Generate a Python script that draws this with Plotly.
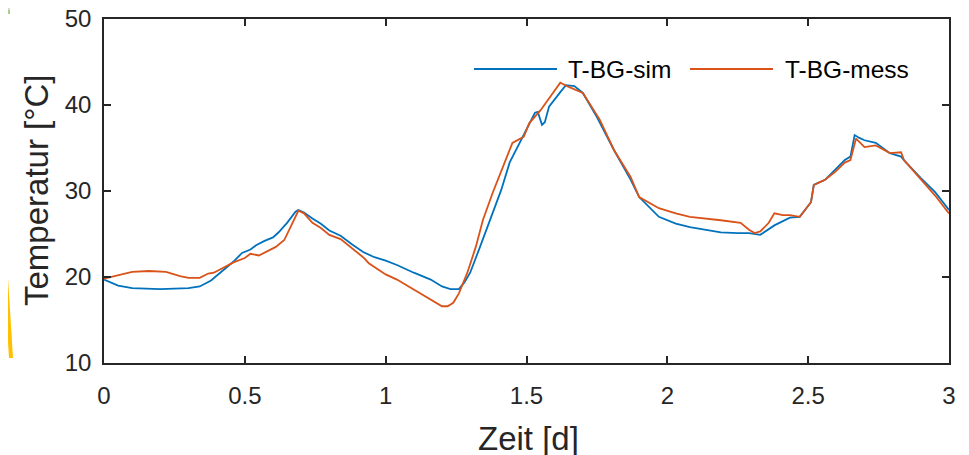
import plotly.graph_objects as go

# ---- data ----
t_sim = [0, 0.05, 0.1, 0.2, 0.3, 0.34, 0.38, 0.42, 0.46, 0.49, 0.52, 0.54, 0.57, 0.6, 0.62,
         0.65, 0.68, 0.69, 0.71, 0.74, 0.77, 0.8, 0.84, 0.88, 0.92, 0.96, 1.0, 1.04, 1.1,
         1.16, 1.2, 1.23, 1.26, 1.28, 1.30, 1.335, 1.37, 1.41, 1.44, 1.48, 1.51, 1.53, 1.54,
         1.555, 1.565, 1.58, 1.62, 1.64, 1.67, 1.70, 1.75, 1.81, 1.87, 1.90, 1.97, 2.03,
         2.08, 2.14, 2.19, 2.25, 2.29, 2.33, 2.36, 2.38, 2.435, 2.47, 2.51, 2.52, 2.56,
         2.595, 2.63, 2.65, 2.665, 2.68, 2.70, 2.74, 2.79, 2.83, 2.84, 2.90, 2.95, 3.0]
T_sim = [19.7, 19.0, 18.7, 18.6, 18.7, 18.9, 19.6, 20.7, 21.8, 22.8, 23.2, 23.7, 24.2, 24.6, 25.2,
         26.3, 27.6, 27.8, 27.5, 26.8, 26.2, 25.4, 24.8, 23.8, 22.9, 22.3, 21.9, 21.4, 20.5,
         19.7, 18.9, 18.6, 18.6, 19.4, 20.5, 23.5, 26.6, 30.1, 33.3, 35.9, 37.7, 39.1, 39.2,
         37.7, 38.0, 39.8, 41.5, 42.3, 42.2, 41.4, 38.6, 34.8, 31.3, 29.3, 27.0, 26.2,
         25.8, 25.5, 25.2, 25.1, 25.1, 24.9, 25.6, 26.0, 26.9, 27.0, 28.7, 30.7, 31.3,
         32.4, 33.6, 34.0, 36.5, 36.2, 35.9, 35.6, 34.4, 34.0, 33.6, 31.5, 29.9, 27.8]

t_mess = [0, 0.05, 0.1, 0.16, 0.22, 0.27, 0.3, 0.34, 0.37, 0.39, 0.42, 0.46, 0.5, 0.52, 0.55,
          0.58, 0.61, 0.64, 0.67, 0.69, 0.71, 0.74, 0.77, 0.8, 0.84, 0.88, 0.92, 0.94, 1.0,
          1.04, 1.10, 1.16, 1.2, 1.22, 1.24, 1.26, 1.29, 1.32, 1.345, 1.38, 1.415, 1.45,
          1.49, 1.51, 1.55, 1.58, 1.62, 1.65, 1.70, 1.76, 1.81, 1.87, 1.90, 1.97, 2.03,
          2.08, 2.14, 2.19, 2.26, 2.29, 2.31, 2.33, 2.36, 2.38, 2.41, 2.435, 2.47, 2.51,
          2.52, 2.56, 2.595, 2.63, 2.65, 2.67, 2.70, 2.74, 2.79, 2.83, 2.84, 2.90, 2.95, 3.0]
T_mess = [19.8, 20.2, 20.6, 20.7, 20.6, 20.1, 19.9, 19.9, 20.4, 20.5, 21.0, 21.7, 22.2, 22.7, 22.5,
          23.0, 23.5, 24.3, 26.4, 27.7, 27.4, 26.3, 25.7, 24.9, 24.4, 23.4, 22.3, 21.6, 20.3,
          19.7, 18.5, 17.3, 16.6, 16.6, 17.0, 18.1, 20.5, 23.5, 26.6, 29.8, 32.8, 35.6,
          36.3, 37.9, 39.4, 40.8, 42.6, 42.1, 41.4, 38.3, 34.8, 31.6, 29.3, 28.0, 27.4,
          27.0, 26.8, 26.6, 26.3, 25.5, 25.1, 25.3, 26.3, 27.4, 27.2, 27.2, 27.0, 28.7,
          30.7, 31.3, 32.2, 33.3, 33.6, 36.1, 35.1, 35.3, 34.4, 34.5, 33.6, 31.3, 29.5, 27.4]

series_names = ["T-BG-sim", "T-BG-mess"]
x_ticks = [0, 0.5, 1, 1.5, 2, 2.5, 3]
x_ticklabels = ["0", "0.5", "1", "1.5", "2", "2.5", "3"]
y_ticks = [10, 20, 30, 40, 50]

BLUE = "#0072BD"
ORANGE = "#D95319"
AX = "#262626"
FONT = "Liberation Sans, Arial, sans-serif"

fig = go.Figure()
fig.add_trace(go.Scatter(x=t_sim, y=T_sim, mode="lines", name=series_names[0],
                         line=dict(color=BLUE, width=1.8), showlegend=False))
fig.add_trace(go.Scatter(x=t_mess, y=T_mess, mode="lines", name=series_names[1],
                         line=dict(color=ORANGE, width=1.8), showlegend=False))

axis_common = dict(showline=True, linecolor=AX, linewidth=1.5, mirror="ticks",
                   ticks="inside", ticklen=7, tickwidth=1.5, tickcolor=AX,
                   showgrid=False, zeroline=False, ticklabeloverflow="allow",
                   tickfont=dict(family=FONT, size=24, color=AX))

fig.update_xaxes(range=[0, 3], tickvals=x_ticks, ticktext=x_ticklabels,
                 ticklabelstandoff=10, **axis_common)
fig.update_yaxes(range=[10, 50], tickvals=y_ticks, ticklabelstandoff=6, **axis_common)

# page offset (browser body margin) -> plot area at screen x 104..949, y 19..363
OFF = 8
PL, PT, PW, PH = 104 - OFF, 19 - OFF, 845, 344


def px(sx):
    return (sx - OFF - PL) / PW


def py(sy):
    return (PT + PH - (sy - OFF)) / PH


# custom legend (long line samples like the original)
leg_y = py(69)
fig.add_shape(type="line", xref="paper", yref="paper", x0=px(474), x1=px(557), y0=leg_y, y1=leg_y,
              line=dict(color=BLUE, width=1.8))
fig.add_shape(type="line", xref="paper", yref="paper", x0=px(690), x1=px(773), y0=leg_y, y1=leg_y,
              line=dict(color=ORANGE, width=1.8))
fig.add_annotation(xref="paper", yref="paper", x=px(566), y=leg_y, text=series_names[0],
                   showarrow=False, xanchor="left", yanchor="middle",
                   font=dict(family=FONT, size=24.5, color="#000000"))
fig.add_annotation(xref="paper", yref="paper", x=px(783), y=leg_y, text=series_names[1],
                   showarrow=False, xanchor="left", yanchor="middle",
                   font=dict(family=FONT, size=24.5, color="#000000"))

# axis titles
fig.add_annotation(xref="paper", yref="paper", x=px(528), y=py(438), text="Zeit [d]",
                   showarrow=False, xanchor="center", yanchor="middle",
                   font=dict(family=FONT, size=33, color=AX))
fig.add_annotation(xref="paper", yref="paper", x=px(36), y=py(191), text="Temperatur [°C]",
                   showarrow=False, xanchor="center", yanchor="middle", textangle=-90,
                   font=dict(family=FONT, size=33, color=AX))

# screenshot artefacts: yellow pointer line and image fragment at top-left
fig.add_shape(type="line", xref="paper", yref="paper",
              x0=px(-2), y0=py(150), x1=px(11), y1=py(358),
              line=dict(color="#FFC000", width=4))
frag = [("#F2B64A", 0, 3), ("#B8B8B8", 3, 7), ("#D8D8D8", 7, 10), ("#A8D08D", 10, 14)]
for col, ya, yb in frag:
    fig.add_shape(type="rect", xref="paper", yref="paper", line=dict(width=0), fillcolor=col,
                  x0=px(0), x1=px(10), y0=py(yb), y1=py(ya))

fig.update_layout(width=969, height=455, plot_bgcolor="white", paper_bgcolor="white",
                  margin=dict(l=PL, r=969 - PL - PW, t=PT, b=455 - PT - PH, autoexpand=False),
                  font=dict(family=FONT, color=AX))

fig.write_html("out.html")
